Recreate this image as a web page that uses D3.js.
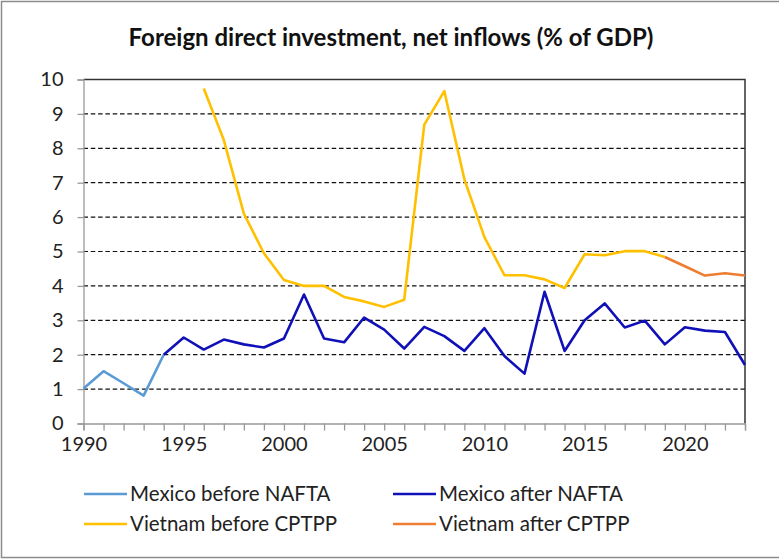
<!DOCTYPE html>
<html>
<head>
<meta charset="utf-8">
<script src="https://cdn.jsdelivr.net/npm/d3@7"></script>
<style>
  html, body { margin: 0; padding: 0; background: #fff; }
  svg { display: block; font-family: Lato, "Open Sans", sans-serif; }
</style>
</head>
<body>
<svg id="chart" width="779" height="560"></svg>
<script>
// FDI net inflows, % of GDP
const mexicoBeforeYears = [1990, 1991, 1992, 1993, 1994];
const mexicoBeforeValues = [1.02, 1.52, 1.17, 0.81, 2.0];

const mexicoAfterYears = [1994, 1995, 1996, 1997, 1998, 1999, 2000, 2001, 2002, 2003,
  2004, 2005, 2006, 2007, 2008, 2009, 2010, 2011, 2012, 2013,
  2014, 2015, 2016, 2017, 2018, 2019, 2020, 2021, 2022, 2023];
const mexicoAfterValues = [2.0, 2.50, 2.15, 2.44, 2.30, 2.21, 2.47, 3.75, 2.47, 2.36,
  3.08, 2.73, 2.18, 2.81, 2.54, 2.11, 2.77, 1.96, 1.45, 3.83,
  2.11, 3.0, 3.49, 2.79, 2.99, 2.30, 2.80, 2.70, 2.66, 1.70];

const vietnamBeforeYears = [1996, 1997, 1998, 1999, 2000, 2001, 2002, 2003, 2004, 2005,
  2006, 2007, 2008, 2009, 2010, 2011, 2012, 2013, 2014, 2015,
  2016, 2017, 2018, 2019];
const vietnamBeforeValues = [9.74, 8.24, 6.1, 4.95, 4.17, 4.0, 4.0, 3.68, 3.55, 3.39,
  3.6, 8.69, 9.66, 7.1, 5.42, 4.31, 4.31, 4.19, 3.94, 4.92,
  4.89, 5.01, 5.01, 4.84];

const vietnamAfterYears = [2019, 2020, 2021, 2022, 2023];
const vietnamAfterValues = [4.84, 4.57, 4.30, 4.37, 4.30];

const yTicks = [0, 1, 2, 3, 4, 5, 6, 7, 8, 9, 10];
const xLabelYears = [1990, 1995, 2000, 2005, 2010, 2015, 2020];

const series = [
  { name: "Mexico before NAFTA", years: mexicoBeforeYears, values: mexicoBeforeValues, color: "#5B9BD5" },
  { name: "Mexico after NAFTA", years: mexicoAfterYears, values: mexicoAfterValues, color: "#1010B8" },
  { name: "Vietnam before CPTPP", years: vietnamBeforeYears, values: vietnamBeforeValues, color: "#FFC000" },
  { name: "Vietnam after CPTPP", years: vietnamAfterYears, values: vietnamAfterValues, color: "#ED7D31" }
];

const svg = d3.select("#chart");
const plotLeft = 83.5, plotRight = 745, plotTop = 79.5, plotBottom = 423.5;

const x = d3.scaleLinear().domain([1990, 2023]).range([plotLeft, plotRight]);
const y = d3.scaleLinear().domain([0, 10]).range([plotBottom, plotTop]);

// outer frame
svg.append("rect")
  .attr("x", 1.5).attr("y", 1.5).attr("width", 800).attr("height", 556)
  .attr("fill", "none").attr("stroke", "#8c8c8c").attr("stroke-width", 1.5);

// title
svg.append("text")
  .attr("x", 391).attr("y", 46)
  .attr("text-anchor", "middle")
  .attr("font-size", 24).attr("font-weight", "bold").attr("fill", "#111")
  .text("Foreign direct investment, net inflows (% of GDP)");

// dashed gridlines
svg.append("g").selectAll("line")
  .data(yTicks.filter(d => d > 0 && d < 10))
  .join("line")
  .attr("x1", plotLeft).attr("x2", plotRight)
  .attr("y1", d => y(d)).attr("y2", d => y(d))
  .attr("stroke", "#111").attr("stroke-width", 1.2)
  .attr("stroke-dasharray", "4.5,2.8");

// top and right border of plot area
svg.append("path")
  .attr("d", `M${plotLeft},${plotTop}H${plotRight}V${plotBottom}`)
  .attr("fill", "none").attr("stroke", "#333").attr("stroke-width", 1.5);

// y axis
const yAxis = d3.axisLeft(y).tickValues(yTicks).tickSize(6).tickPadding(14).tickFormat(d3.format("d"));
const gy = svg.append("g").attr("transform", `translate(${plotLeft},0)`).call(yAxis);
gy.select(".domain").attr("stroke", "#999").attr("stroke-width", 1.3);
gy.selectAll(".tick line").attr("stroke", "#999").attr("stroke-width", 1.3);
gy.selectAll(".tick text").attr("font-size", 20).attr("fill", "#222")
  .attr("font-family", "Lato, sans-serif");

// x axis: a tick every year, labels every five
const xAxis = d3.axisBottom(x).tickValues(d3.range(1990, 2024)).tickSize(7).tickPadding(6)
  .tickFormat(d => xLabelYears.includes(d) ? String(d) : "");
const gx = svg.append("g").attr("transform", `translate(0,${plotBottom})`).call(xAxis);
gx.select(".domain").attr("stroke", "#999").attr("stroke-width", 1.3);
gx.selectAll(".tick line").attr("stroke", "#999").attr("stroke-width", 1.3);
gx.selectAll(".tick text").attr("font-size", 20).attr("fill", "#222")
  .attr("font-family", "Lato, sans-serif");

// series lines
const line = d3.line().x(d => x(d[0])).y(d => y(d[1]));
svg.append("g").selectAll("path")
  .data(series)
  .join("path")
  .attr("d", s => line(s.years.map((yr, i) => [yr, s.values[i]])))
  .attr("fill", "none")
  .attr("stroke", s => s.color)
  .attr("stroke-width", 2.6)
  .attr("stroke-linejoin", "round");

// legend
const legendPos = [
  { lx: 84, ly: 494 }, { lx: 393, ly: 494 },
  { lx: 84, ly: 524 }, { lx: 393, ly: 524 }
];
const lg = svg.append("g").selectAll("g")
  .data(series)
  .join("g")
  .attr("transform", (s, i) => `translate(${legendPos[i].lx},${legendPos[i].ly})`);
lg.append("line")
  .attr("x1", 0).attr("x2", 43).attr("y1", 0).attr("y2", 0)
  .attr("stroke", s => s.color).attr("stroke-width", 2.6);
lg.append("text")
  .attr("x", 46).attr("y", 0).attr("dy", "0.35em")
  .attr("font-size", 20.5).attr("fill", "#222")
  .text(s => s.name);
</script>
</body>
</html>
